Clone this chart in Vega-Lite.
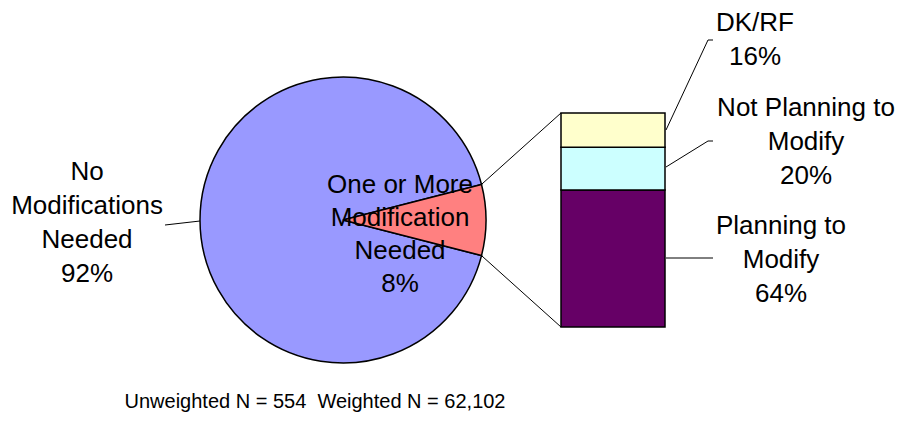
{
  "$schema": "https://vega.github.io/schema/vega-lite/v6.json",
  "width": 898,
  "height": 434,
  "autosize": {"type": "fit", "contains": "padding"},
  "padding": 0,
  "background": "white",
  "config": {"view": {"stroke": null}, "font": "Liberation Sans", "text": {"font": "Liberation Sans"}},
  "datasets": {
    "pie": [
      {"category": "No Modifications Needed", "percent": 92, "label": ["No", "Modifications", "Needed", "92%"]},
      {"category": "One or More Modification Needed", "percent": 8, "label": ["One or More", "Modification", "Needed", "8%"]}
    ],
    "breakdown": [
      {"category": "Planning to Modify", "percent": 64, "label": ["Planning to", "Modify", "64%"]},
      {"category": "Not Planning to Modify", "percent": 20, "label": ["Not Planning to", "Modify", "20%"]},
      {"category": "DK/RF", "percent": 16, "label": ["DK/RF", "16%"]}
    ],
    "note": [{"text": "Unweighted N = 554\u00a0 Weighted N = 62,102"}]
  },
  "layer": [
    {
      "data": {"name": "pie"},
      "encoding": {
        "theta": {"field": "percent", "type": "quantitative", "stack": true, "scale": {"range": [1.3195, 7.6027]}},
        "order": {"field": "percent", "type": "quantitative", "sort": "ascending"},
        "x": {"value": 343},
        "y": {"value": 220}
      },
      "layer": [
        {
          "mark": {"type": "arc", "outerRadius": 143, "stroke": "black", "strokeWidth": 1.5},
          "encoding": {
            "color": {"field": "category", "type": "nominal", "legend": null,
              "scale": {"domain": ["No Modifications Needed", "One or More Modification Needed"], "range": ["#9999FF", "#FF8080"]}}
          }
        },
        {
          "mark": {"type": "text", "radius": 256, "fontSize": 26, "lineHeight": 34, "align": "center", "baseline": "middle", "dy": -48, "color": "black"},
          "encoding": {"text": {"condition": {"test": "datum.percent > 50", "field": "label"}, "value": ""}}
        },
        {
          "mark": {"type": "text", "radius": 57, "fontSize": 26, "lineHeight": 33, "align": "center", "baseline": "middle", "dy": -35, "color": "black"},
          "encoding": {"text": {"condition": {"test": "datum.percent < 50", "field": "label"}, "value": ""}}
        }
      ]
    },
    {
      "data": {"name": "breakdown"},
      "transform": [
        {"stack": "percent", "groupby": [], "sort": [{"field": "percent", "order": "descending"}], "as": ["lower", "upper"]}
      ],
      "mark": {"type": "rect", "stroke": "black", "strokeWidth": 1.5},
      "encoding": {
        "x": {"value": 561},
        "x2": {"value": 665},
        "y": {"field": "lower", "type": "quantitative", "axis": null,
          "scale": {"domain": [0, 100], "range": [327, 113], "nice": false, "zero": true}},
        "y2": {"field": "upper"},
        "color": {"field": "category", "type": "nominal", "legend": null,
          "scale": {"domain": ["Planning to Modify", "Not Planning to Modify", "DK/RF"], "range": ["#660066", "#CCFFFF", "#FFFFCC"]}}
      }
    },
    {
      "data": {"name": "breakdown"},
      "transform": [{"filter": "datum.category === 'DK/RF'"}],
      "mark": {"type": "text", "fontSize": 26, "lineHeight": 34, "align": "center", "baseline": "middle", "x": 755, "y": 23, "color": "black"},
      "encoding": {"text": {"field": "label"}}
    },
    {
      "data": {"name": "breakdown"},
      "transform": [{"filter": "datum.category === 'Not Planning to Modify'"}],
      "mark": {"type": "text", "fontSize": 26, "lineHeight": 34, "align": "center", "baseline": "middle", "x": 806, "y": 108, "color": "black"},
      "encoding": {"text": {"field": "label"}}
    },
    {
      "data": {"name": "breakdown"},
      "transform": [{"filter": "datum.category === 'Planning to Modify'"}],
      "mark": {"type": "text", "fontSize": 26, "lineHeight": 34, "align": "center", "baseline": "middle", "x": 781, "y": 226, "color": "black"},
      "encoding": {"text": {"field": "label"}}
    },
    {"data": {"values": [{}]}, "mark": {"type": "rule", "color": "black", "strokeWidth": 1}, "encoding": {"x": {"value": 481.5}, "y": {"value": 184.4}, "x2": {"value": 561}, "y2": {"value": 113}}},
    {"data": {"values": [{}]}, "mark": {"type": "rule", "color": "black", "strokeWidth": 1}, "encoding": {"x": {"value": 481.5}, "y": {"value": 255.6}, "x2": {"value": 561}, "y2": {"value": 327}}},
    {"data": {"values": [{}]}, "mark": {"type": "rule", "color": "black", "strokeWidth": 1}, "encoding": {"x": {"value": 165}, "y": {"value": 225}, "x2": {"value": 200}, "y2": {"value": 221}}},
    {"data": {"values": [{}]}, "mark": {"type": "rule", "color": "black", "strokeWidth": 1}, "encoding": {"x": {"value": 666}, "y": {"value": 130}, "x2": {"value": 708}, "y2": {"value": 40}}},
    {"data": {"values": [{}]}, "mark": {"type": "rule", "color": "black", "strokeWidth": 1}, "encoding": {"x": {"value": 708}, "y": {"value": 40}, "x2": {"value": 713}, "y2": {"value": 40}}},
    {"data": {"values": [{}]}, "mark": {"type": "rule", "color": "black", "strokeWidth": 1}, "encoding": {"x": {"value": 666}, "y": {"value": 167}, "x2": {"value": 708}, "y2": {"value": 141}}},
    {"data": {"values": [{}]}, "mark": {"type": "rule", "color": "black", "strokeWidth": 1}, "encoding": {"x": {"value": 708}, "y": {"value": 141}, "x2": {"value": 713}, "y2": {"value": 141}}},
    {"data": {"values": [{}]}, "mark": {"type": "rule", "color": "black", "strokeWidth": 1}, "encoding": {"x": {"value": 666}, "y": {"value": 258}, "x2": {"value": 713}, "y2": {"value": 258}}},
    {
      "data": {"name": "note"},
      "mark": {"type": "text", "fontSize": 20, "align": "center", "baseline": "alphabetic", "x": 315, "y": 408, "color": "black"},
      "encoding": {"text": {"field": "text"}}
    }
  ],
  "resolve": {"scale": {"color": "independent", "theta": "independent", "y": "independent", "x": "independent"}}
}
